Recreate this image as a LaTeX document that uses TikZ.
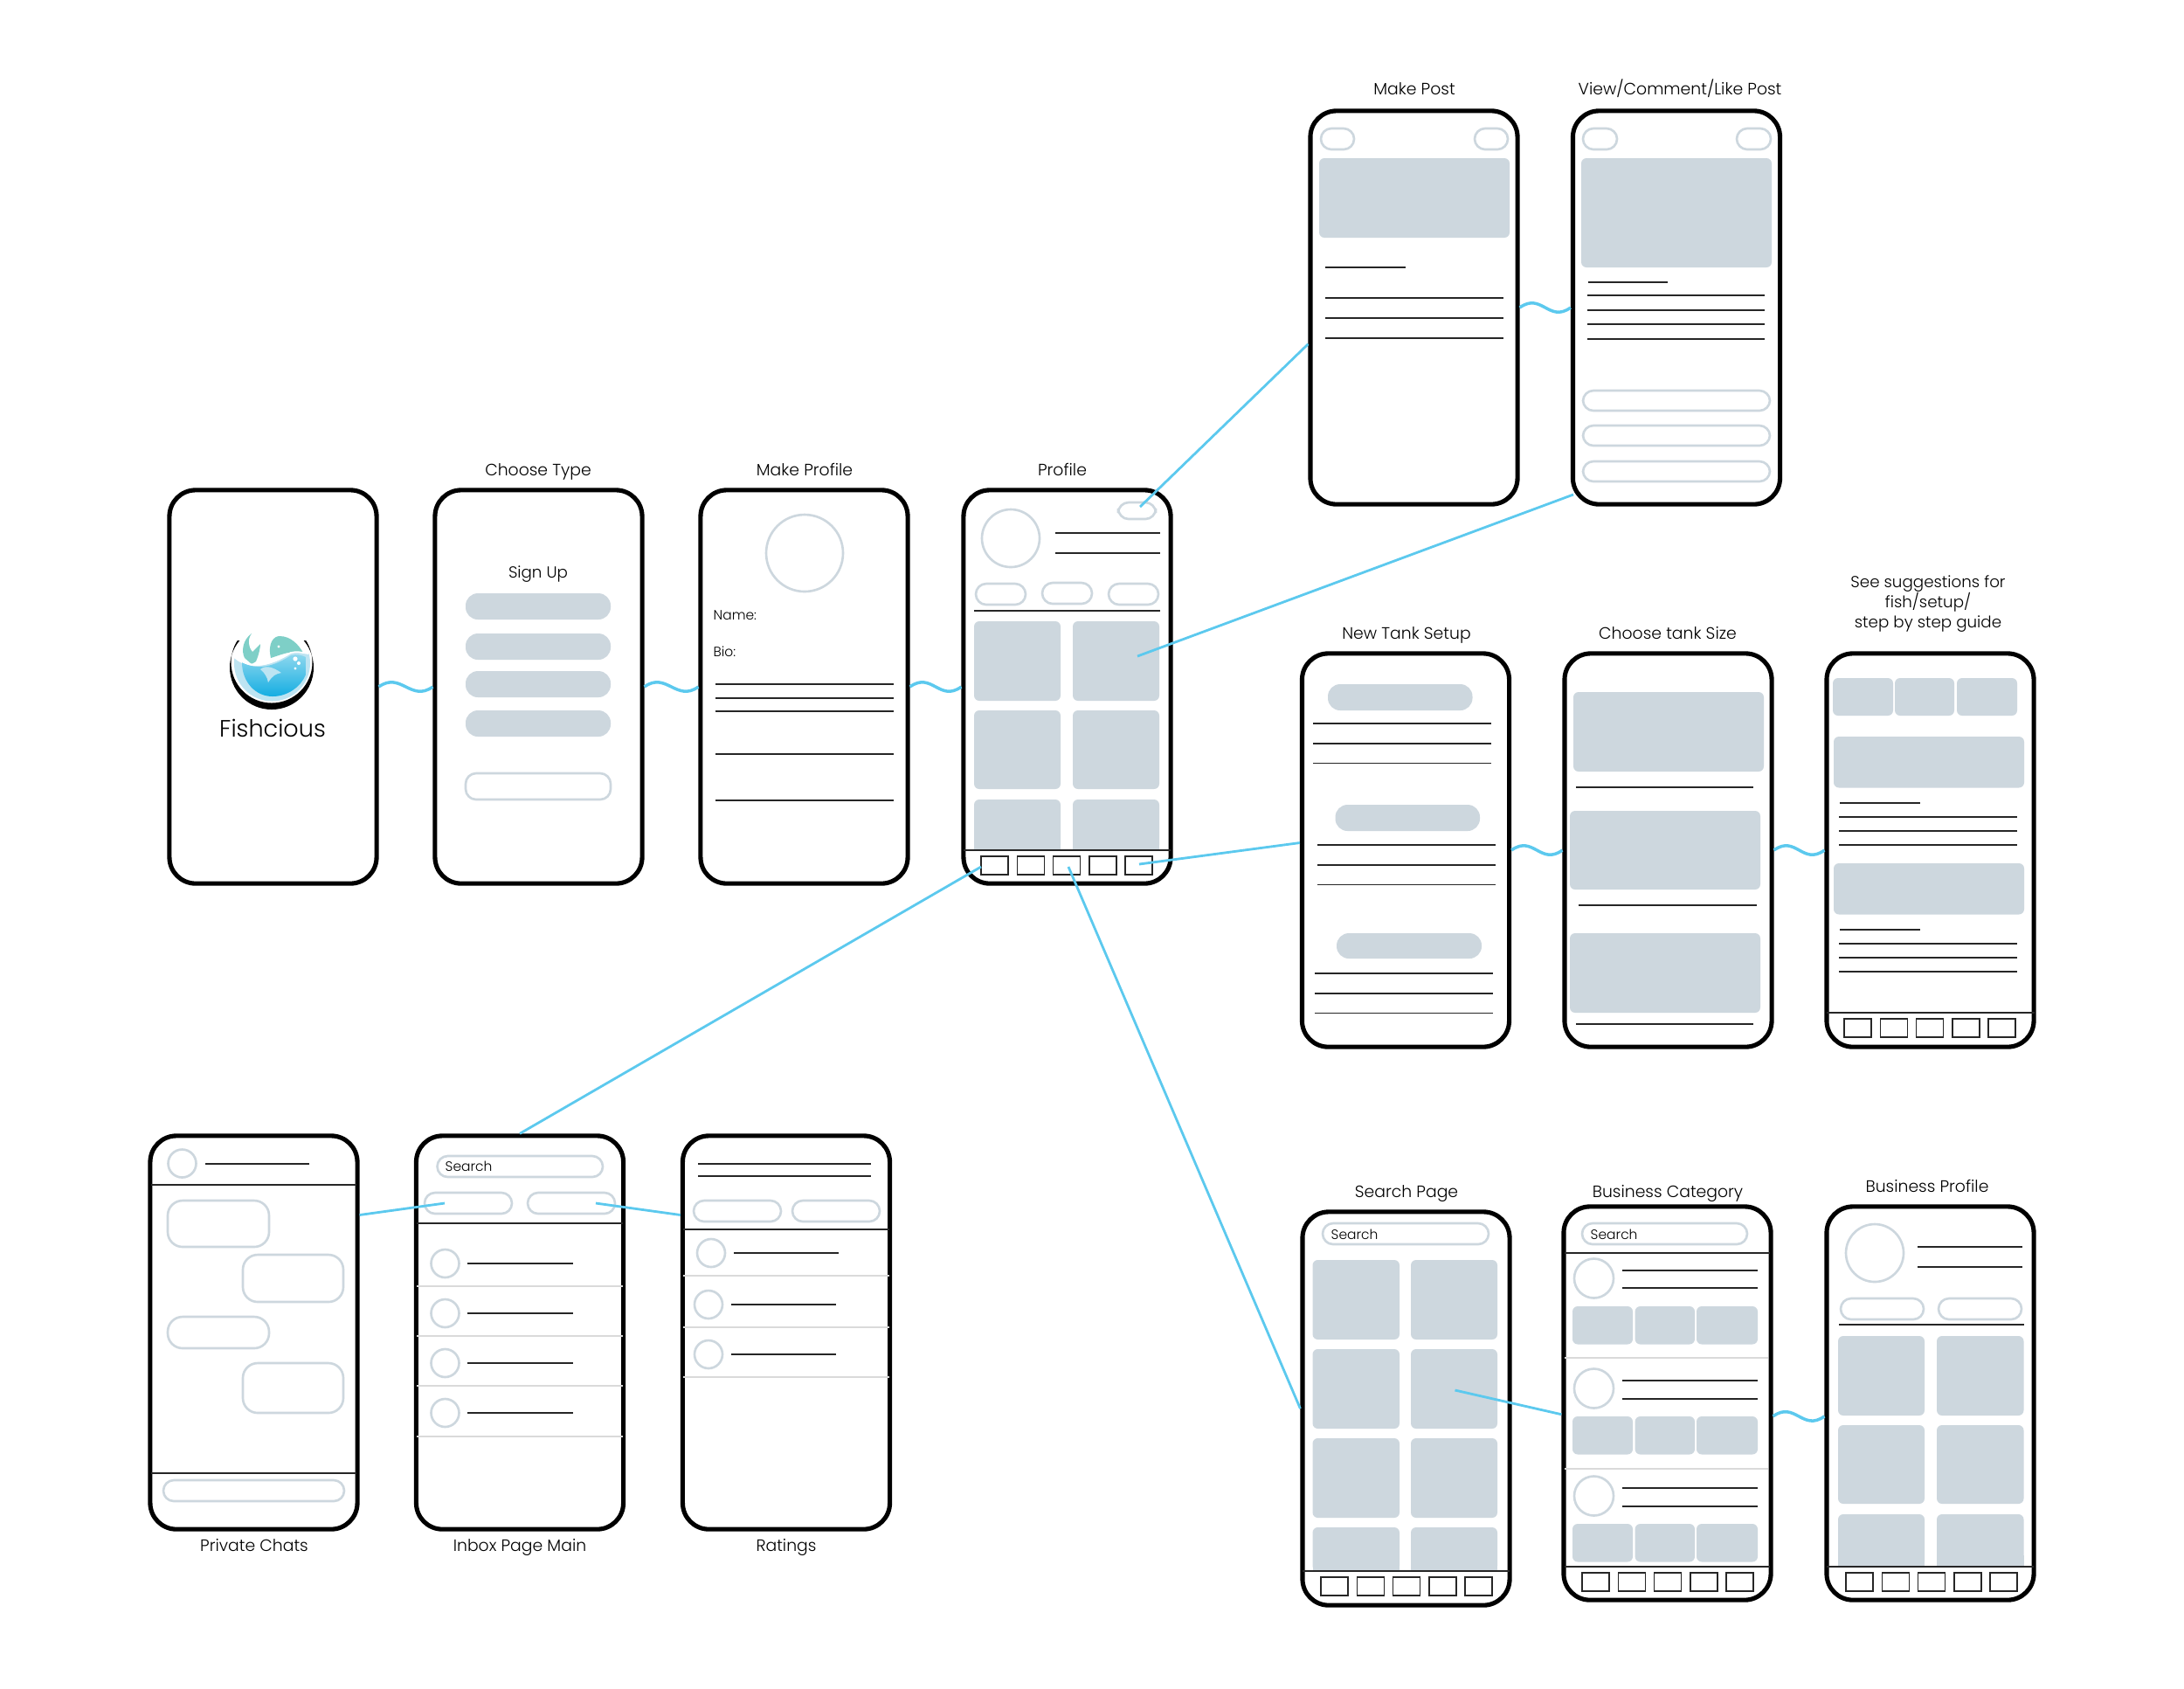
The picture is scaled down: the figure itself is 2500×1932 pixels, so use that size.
\documentclass[tikz,border=0pt]{standalone}
\usepackage{fontspec}
\setmainfont{Poppins}[UprightFont=* Light]
\usepackage{tikz}

\definecolor{uigray}{HTML}{CDD7DE}
\definecolor{sepgray}{HTML}{DADADA}
\definecolor{flowblue}{HTML}{5CC9EE}
\definecolor{logolight}{HTML}{BDE4F2}
\definecolor{logotop}{HTML}{8FD8EE}
\definecolor{logoblue}{HTML}{14ADE2}
\definecolor{logoteal}{HTML}{7ECFC7}

\tikzset{
	phone/.style={draw=black,fill=white,line width=1.45pt,rounded corners=0.3cm,minimum width=2.37cm,minimum height=4.5cm},
	tile/.style={fill=uigray,rounded corners=0.06cm},
	pillfill/.style={fill=uigray,rounded corners=0.14cm},
	pill/.style={draw=uigray,line width=0.75pt,fill=white,rounded corners=0.12cm},
	bubble/.style={draw=uigray,line width=0.75pt,fill=white,rounded corners=0.17cm},
	avatar/.style={draw=uigray,line width=0.75pt,fill=white},
	textline/.style={draw=black!85,line width=0.45pt},
	sepline/.style={draw=sepgray,line width=0.4pt},
	navbox/.style={draw=black!85,line width=0.45pt,fill=white},
	flowline/.style={draw=flowblue,line width=0.8pt},
	flowcurve/.style={draw=flowblue,line width=1pt},
	screentitle/.style={font=\fontsize{5.35}{6.5}\selectfont,align=center,inner sep=0,text height=5pt,text depth=0.8pt},
	notetitle/.style={font=\fontsize{5.2}{6.5}\selectfont,align=center,inner sep=0},
	innertext/.style={font=\fontsize{4.4}{6}\selectfont,inner sep=0,anchor=west}
}

\newcommand{\navbar}[2]{\foreach \i in {0,...,4}{\draw[navbox] ({#1+41.3*\i},#2) rectangle +(31,21);}}
\newcommand{\flowwave}[2]{\draw[flowcurve] (#1) .. controls +(25,-18) and +(-25,18) .. (#2);}

\begin{document}
\begin{tikzpicture}[x=0.01cm,y=-0.01cm]
	\useasboundingbox (0,0) rectangle (2500,1932);

	\node[phone] (splash) at (312.5,786) {};
	\node[phone] (choose) at (616.5,786) {};
	\node[phone] (makeprofile) at (920.5,786) {};
	\node[phone] (profile) at (1221.5,786) {};
	\node[phone] (makepost) at (1618.5,352) {};
	\node[phone] (viewpost) at (1919,352) {};
	\node[phone] (newtank) at (1609,973) {};
	\node[phone] (tanksize) at (1909.5,973) {};
	\node[phone] (suggest) at (2209.5,973) {};
	\node[phone] (searchpage) at (1609.5,1612) {};
	\node[phone] (bizcat) at (1908.5,1606) {};
	\node[phone] (bizprofile) at (2209.5,1606) {};
	\node[phone] (chats) at (290.5,1525) {};
	\node[phone] (inbox) at (595,1525) {};
	\node[phone] (ratings) at (900,1525) {};

	\node[screentitle] (choosetitle) at (616,537) {Choose Type};
	\node[screentitle] (makeprofiletitle) at (921,537) {Make Profile};
	\node[screentitle] (profiletitle) at (1216,537) {Profile};
	\node[screentitle] (makeposttitle) at (1619,101) {Make Post};
	\node[screentitle] (viewposttitle) at (1923,101) {View/Comment/Like Post};
	\node[screentitle] (newtanktitle) at (1610,724) {New Tank Setup};
	\node[screentitle] (tanksizetitle) at (1909,724) {Choose tank Size};
	\node[notetitle] (suggesttitle) at (2207,691) {See suggestions for\\fish/setup/\\step by step guide};
	\node[screentitle] (searchtitle) at (1610,1363) {Search Page};
	\node[screentitle] (bizcattitle) at (1909,1363) {Business Category};
	\node[screentitle] (bizprofiletitle) at (2206,1357) {Business Profile};
	\node[screentitle] (chatstitle) at (291,1768) {Private Chats};
	\node[screentitle] (inboxtitle) at (595,1768) {Inbox Page Main};
	\node[screentitle] (ratingstitle) at (900,1768) {Ratings};

	% logo
	\begin{scope}
		\clip (255,733) rectangle (370,815);
		\fill[black,even odd rule] (311,764) circle (48) (311,758) circle (46.5);
	\end{scope}
	\begin{scope}
		\clip (311.5,759) circle (43.5);
		\fill[logolight] (265,750) .. controls (280,768) and (308,765) .. (333,747) .. controls (340,745) and (350,748) .. (358,749) -- (358,805) -- (265,805) -- cycle;
		\shade[top color=logotop,bottom color=logoblue] (277,758) .. controls (295,768) and (315,762) .. (333,750) .. controls (340,748) and (346,750) .. (350,752) -- (350,772) .. controls (345,785) and (330,797) .. (312,797) .. controls (292,797) and (277,780) .. (277,758) -- cycle;
		\fill[logolight] (298,766) .. controls (304,761) and (312,763) .. (322,770) .. controls (316,771) and (312,773) .. (307,781) .. controls (306,775) and (303,770) .. (298,766) -- cycle;
	\end{scope}
	\fill[logoteal] (310,753) .. controls (306,735) and (314,728) .. (320,728) .. controls (333,728) and (342,738) .. (347,747) .. controls (335,744) and (325,748) .. (310,753) -- cycle;
	\fill[logoteal] (288,725) .. controls (278,732) and (276,745) .. (280,753) -- (288,760) -- (293,757) .. controls (296,750) and (298,742) .. (298,737) .. controls (294,741) and (291,744) .. (289,746) .. controls (284,740) and (283,732) .. (288,725) -- cycle;
	\draw[white,line width=0.5pt] (269,751) .. controls (284,766) and (308,763) .. (333,747) .. controls (340,745) and (346,747) .. (353,748);
	\fill[white] (319,740) circle (1.6);
	\foreach \a/\b/\r in {338/754/2.6,342/759/2,338/765/1.6}{
		\fill[white] (\a,\b) circle (\r);
	}
	\node[font=\fontsize{7.7}{9}\selectfont,inner sep=0] (brand) at (312,833) {Fishcious};

	% choose type
	\node[font=\fontsize{5.2}{7}\selectfont,inner sep=0] (signup) at (616,657.5) {Sign Up};
	\foreach \a/\b in {679/709,725/755,768/798,813/843}{
		\path[pillfill] (533,\a) rectangle (699,\b);
	}
	\draw[pill] (533,885) rectangle (699,915);

	% make profile
	\draw[avatar] (921,633) circle (44);
	\node[innertext] (namelabel) at (816,704) {Name:};
	\node[innertext] (biolabel) at (816,746) {Bio:};
	\foreach \y in {783,799,814,863,916}{
		\draw[textline] (819,\y) -- (1022.5,\y);
	}

	% profile
	\draw[pill] (1280,575) rectangle (1323,594);
	\draw[avatar] (1157,616) circle (33);
	\foreach \y in {610,633}{
		\draw[textline] (1208,\y) -- (1328,\y);
	}
	\draw[pill] (1117,668) rectangle (1174,692);
	\draw[pill] (1193,667) rectangle (1250,691);
	\draw[pill] (1269,668) rectangle (1326,692);
	\draw[textline] (1115,699) -- (1328,699);
	\foreach \a/\b in {1115/1214,1228/1327}{
		\path[tile] (\a,711) rectangle (\b,802);
		\path[tile] (\a,813) rectangle (\b,903);
		\path[tile] (\a,915) rectangle (\b,973);
		\fill[uigray] (\a,960) rectangle (\b,973);
	}
	\draw[textline] (1103,973) -- (1340,973);
	\navbar{1123}{980}

	% make post
	\draw[pill] (1512,147) rectangle (1550,171);
	\draw[pill] (1688,147) rectangle (1726,171);
	\path[tile] (1510,181) rectangle (1728,272);
	\draw[textline] (1517,306) -- (1609,306);
	\foreach \y in {341,364,387}{
		\draw[textline] (1517,\y) -- (1721,\y);
	}

	% view post
	\draw[pill] (1812,147) rectangle (1851,171);
	\draw[pill] (1988,147) rectangle (2027,171);
	\path[tile] (1810,181) rectangle (2028,306);
	\draw[textline] (1817.5,323) -- (1909,323);
	\foreach \y in {338,355,371,388}{
		\draw[textline] (1817,\y) -- (2020,\y);
	}
	\foreach \a/\b in {447/470,487/510,528/551}{
		\draw[pill] (1812,\a) rectangle (2026,\b);
	}

	% new tank setup
	\foreach \a/\b/\c/\d/\e/\f in {1520/1685.5/783/813/1503/828,1528.5/1694/921/951/1508/967,1530/1696/1068/1097/1505/1114}{
		\path[pillfill] (\a,\c) rectangle (\b,\d);
		\foreach \k in {0,1,2}{
			\draw[textline] (\e,{\f+22.7*\k}) -- ({\e+203.5},{\f+22.7*\k});
		}
	}

	% choose tank size
	\path[tile] (1801,792) rectangle (2019,883);
	\draw[textline] (1804,901) -- (2007,901);
	\path[tile] (1797,928) rectangle (2015,1018);
	\draw[textline] (1807,1036) -- (2011,1036);
	\path[tile] (1797,1068) rectangle (2015,1159);
	\draw[textline] (1804,1172) -- (2007,1172);

	% suggestions
	\foreach \a/\b in {2098/2167,2169/2237,2240/2309}{
		\path[tile] (\a,776) rectangle (\b,819);
	}
	\foreach \t in {0,145}{
		\path[tile] (2099,{843+\t}) rectangle (2317,{901.5+\t});
		\draw[textline] (2106,{919+\t}) -- (2198,{919+\t});
		\foreach \y in {935,951,967}{
			\draw[textline] (2105,{\y+\t}) -- (2309,{\y+\t});
		}
	}
	\draw[textline] (2091,1159) -- (2329,1159);
	\navbar{2111}{1166}

	% search page
	\draw[pill] (1514,1400) rectangle (1704,1424);
	\node[innertext] (searchone) at (1523,1413) {Search};
	\foreach \a/\b in {1502.5/1602,1615/1714}{
		\path[tile] (\a,1442) rectangle (\b,1533);
		\path[tile] (\a,1544) rectangle (\b,1635);
		\path[tile] (\a,1646) rectangle (\b,1737);
		\path[tile] (\a,1748) rectangle (\b,1798);
		\fill[uigray] (\a,1785) rectangle (\b,1798);
	}
	\draw[textline] (1491,1798) -- (1728,1798);
	\navbar{1512}{1805}

	% business category
	\draw[pill] (1811,1400) rectangle (2000,1424);
	\node[innertext] (searchtwo) at (1820,1413) {Search};
	\draw[textline] (1791,1434) -- (2026,1434);
	\foreach \a/\b/\c/\d in {1463/1454/1474/1495,1589/1580/1601/1621,1712/1703/1724/1744}{
		\draw[avatar] (1824.5,\a) circle (22.5);
		\draw[textline] (1857,\b) -- (2012,\b);
		\draw[textline] (1857,\c) -- (2012,\c);
		\path[tile] (1800,\d) rectangle (1869,{\d+43.5});
		\path[tile] (1871.6,\d) rectangle (1940,{\d+43.5});
		\path[tile] (1942,\d) rectangle (2012,{\d+43.5});
	}
	\foreach \y in {1554,1681}{
		\draw[sepline] (1791,\y) -- (2024,\y);
	}
	\draw[textline] (1791,1793) -- (2026,1793);
	\navbar{1811}{1800}

	% business profile
	\draw[avatar] (2146,1434) circle (33);
	\foreach \y in {1427,1450}{
		\draw[textline] (2195,\y) -- (2315,\y);
	}
	\draw[pill] (2107,1486) rectangle (2202,1510);
	\draw[pill] (2219,1486) rectangle (2314,1510);
	\draw[textline] (2105,1516) -- (2316.5,1516);
	\foreach \a/\b in {2104/2203,2217/2316.5}{
		\path[tile] (\a,1529) rectangle (\b,1620);
		\path[tile] (\a,1631) rectangle (\b,1721);
		\path[tile] (\a,1733) rectangle (\b,1793);
		\fill[uigray] (\a,1780) rectangle (\b,1793);
	}
	\draw[textline] (2091,1793) -- (2328,1793);
	\navbar{2113}{1800}

	% private chats
	\draw[avatar] (208.5,1331.5) circle (16);
	\draw[textline] (235,1332) -- (354,1332);
	\draw[textline] (173,1356) -- (408,1356);
	\path[bubble] (192,1374) rectangle (308,1427);
	\path[bubble] (278,1436) rectangle (393,1490);
	\path[bubble] (192,1507) rectangle (308,1543);
	\path[bubble] (278,1560) rectangle (393,1617);
	\draw[textline] (173,1686) -- (408,1686);
	\draw[pill] (187,1694) rectangle (394,1718);

	% inbox
	\draw[pill] (500.5,1323) rectangle (690,1347);
	\node[innertext] (searchthree) at (509,1335) {Search};
	\draw[pill] (486,1365) rectangle (586,1389);
	\draw[pill] (604,1365) rectangle (704,1389);
	\draw[textline] (477,1400) -- (713,1400);
	\foreach \a/\c in {1446/1472,1503/1529,1560/1586,1617/1644}{
		\draw[avatar] (509.5,\a) circle (16);
		\draw[textline] (535,\a) -- (655.5,\a);
		\draw[sepline] (477,\c) -- (713,\c);
	}

	% ratings
	\foreach \y in {1332,1346}{
		\draw[textline] (799,\y) -- (997,\y);
	}
	\draw[pill] (794,1374) rectangle (894,1398);
	\draw[pill] (907,1374) rectangle (1007,1398);
	\draw[textline] (782,1407) -- (1018,1407);
	\foreach \p/\a/\c in {814/1434/1460,811/1493/1519,811/1550/1576}{
		\draw[avatar] (\p,\a) circle (16);
		\draw[textline] ({\p+26},\a) -- ({\p+146},\a);
		\draw[sepline] (782,\c) -- (1018,\c);
	}

	% connectors
	\coordinate (profilepill) at (1305,580);
	\coordinate (profiletile) at (1302,751);
	\coordinate (viewend) at (1801,566);
	\coordinate (navfive) at (1304,989);
	\coordinate (navone) at (1123,992);
	\coordinate (navthree) at (1223,992);
	\coordinate (inboxleft) at (509,1377);
	\coordinate (inboxright) at (682,1377);
	\coordinate (searchtile) at (1665.5,1591);

	\draw[flowline] (profilepill) -- (makepost.199);
	\draw[flowline] (profiletile) -- (viewend);
	\draw[flowline] (navfive) -- (newtank.176);
	\draw[flowline] (navone) -- (inbox.north);
	\draw[flowline] (navthree) -- (searchpage.west);
	\draw[flowline] (inboxleft) -- (chats.48);
	\draw[flowline] (inboxright) -- (ratings.132);
	\draw[flowline] (searchtile) -- (bizcat.186);

	\flowwave{splash.east}{choose.west}
	\flowwave{choose.east}{makeprofile.west}
	\flowwave{makeprofile.east}{profile.west}
	\flowwave{makepost.east}{viewpost.west}
	\flowwave{newtank.east}{tanksize.west}
	\flowwave{tanksize.east}{suggest.west}
	\flowwave{bizcat.-7}{bizprofile.187}
\end{tikzpicture}
\end{document}
